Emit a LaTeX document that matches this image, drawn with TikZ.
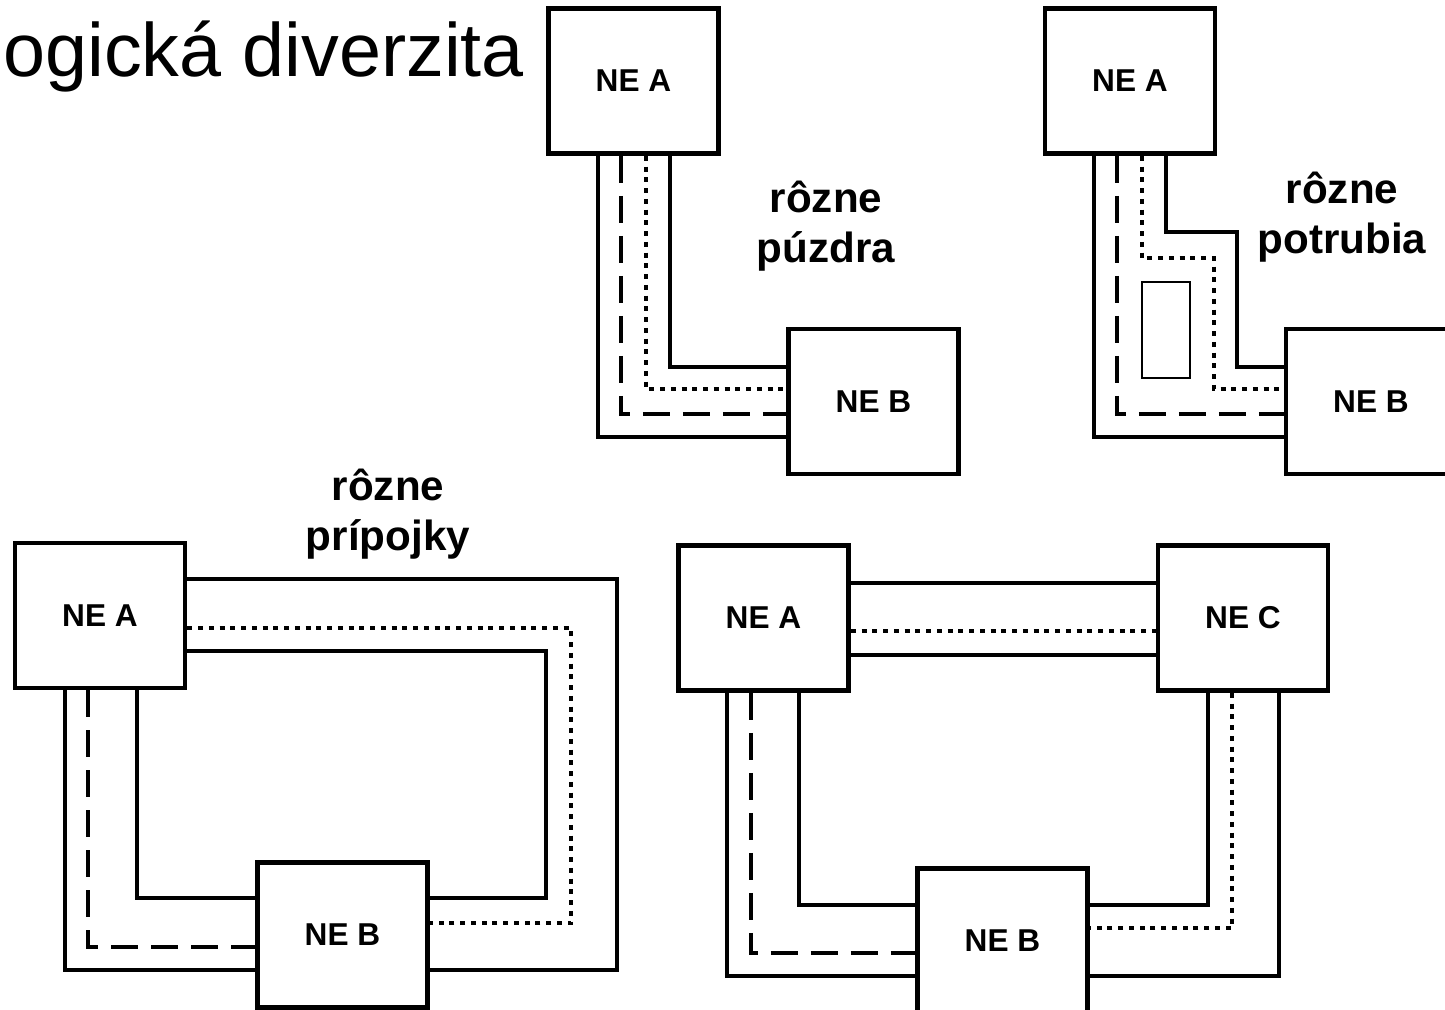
\documentclass[tikz,border=0pt]{standalone}
\usepackage{fontspec}
\setmainfont{Liberation Sans}
\usetikzlibrary{positioning}
\tikzset{
  nebox/.style={
    rectangle, draw=black, fill=white,
    line width=2.7pt,
    minimum width=3.4cm, minimum height=2.9cm,
    inner sep=0pt, align=center,
    font=\fontsize{18}{20}\selectfont\bfseries
  },
  lbltext/.style={
    align=center, inner sep=0pt,
    font=\fontsize{24}{28.5}\selectfont\bfseries
  },
  wire/.style={line width=2.7pt, line join=miter},
  dashwire/.style={wire, dash pattern=on 0.54cm off 0.26cm},
  dotwire/.style={wire, dash pattern=on 0.1cm off 0.115cm},
}

\begin{document}
\begin{tikzpicture}[x=0.02cm, y=-0.02cm]

  \useasboundingbox (0,0) rectangle (1445,1010);
  \clip (0,0) rectangle (1445,1010);

  % Title (cut off on the left)
  \node[anchor=base west, inner sep=0pt, font=\fontsize{43}{48}\selectfont] (title) at (3,77) {ogická diverzita};

  % Panel 1 — rôzne púzdra
  \node[nebox] (a1) at (633.5,81)    {NE A};
  \node[nebox] (b1) at (873.5,401.5) {NE B};
  \node[lbltext] (t1) at (826,226) {rôzne\\púzdra};

  \draw[wire]     (a1.south -| 598,0) |- (b1.west |- 0,437);
  \draw[dashwire] (a1.south -| 621,0) |- (b1.west |- 0,414);
  \draw[dotwire]  (a1.south -| 646,0) |- (b1.west |- 0,389);
  \draw[wire]     (a1.south -| 670,0) |- (b1.west |- 0,367);

  % Panel 2 — rôzne potrubia
  \node[nebox] (a2) at (1130,81)    {NE A};
  \node[nebox] (b2) at (1371,401.5) {NE B};
  \node[lbltext] (t2) at (1342,217) {rôzne\\potrubia};

  \draw[line width=0.8pt] (1142,282) rectangle (1190,378);
  \draw[wire]     (a2.south -| 1094,0) |- (b2.west |- 0,437);
  \draw[dashwire] (a2.south -| 1117,0) |- (b2.west |- 0,414);
  \draw[dotwire]  (a2.south -| 1142,0) |- (1214,258) |- (b2.west |- 0,389);
  \draw[wire]     (a2.south -| 1166,0) |- (1237,232) |- (b2.west |- 0,367);

  % Panel 3 — rôzne prípojky
  \node[nebox] (a3) at (100,615.5) {NE A};
  \node[nebox] (b3) at (342.5,935) {NE B};
  \node[lbltext] (t3) at (388,514) {rôzne\\prípojky};

  \draw[wire]     (a3.south -| 65,0)  |- (b3.west |- 0,970);
  \draw[dashwire] (a3.south -| 88,0)  |- (b3.west |- 0,947);
  \draw[wire]     (a3.south -| 137,0) |- (b3.west |- 0,898);
  \draw[wire]     (a3.east |- 0,579) -| (617,970) -- (b3.east |- 0,970);
  \draw[dotwire]  (a3.east |- 0,628) -| (571,923) -- (b3.east |- 0,923);
  \draw[wire]     (a3.east |- 0,651) -| (546,898) -- (b3.east |- 0,898);

  % Panel 4 — ring A, C, B
  \node[nebox] (a4) at (763.5,618) {NE A};
  \node[nebox] (c4) at (1243,618)  {NE C};
  \node[nebox] (b4) at (1002.5,941) {NE B};

  \draw[wire]     (a4.east |- 0,583) -- (c4.west |- 0,583);
  \draw[dotwire]  (a4.east |- 0,631) -- (c4.west |- 0,631);
  \draw[wire]     (a4.east |- 0,655) -- (c4.west |- 0,655);
  \draw[wire]     (a4.south -| 727,0) |- (b4.west |- 0,976);
  \draw[dashwire] (a4.south -| 751,0) |- (b4.west |- 0,953);
  \draw[wire]     (a4.south -| 799,0) |- (b4.west |- 0,905);
  \draw[wire]     (c4.south -| 1208,0) |- (b4.east |- 0,905);
  \draw[dotwire]  (c4.south -| 1232,0) |- (b4.east |- 0,928);
  \draw[wire]     (c4.south -| 1279,0) |- (b4.east |- 0,976);

\end{tikzpicture}
\end{document}
